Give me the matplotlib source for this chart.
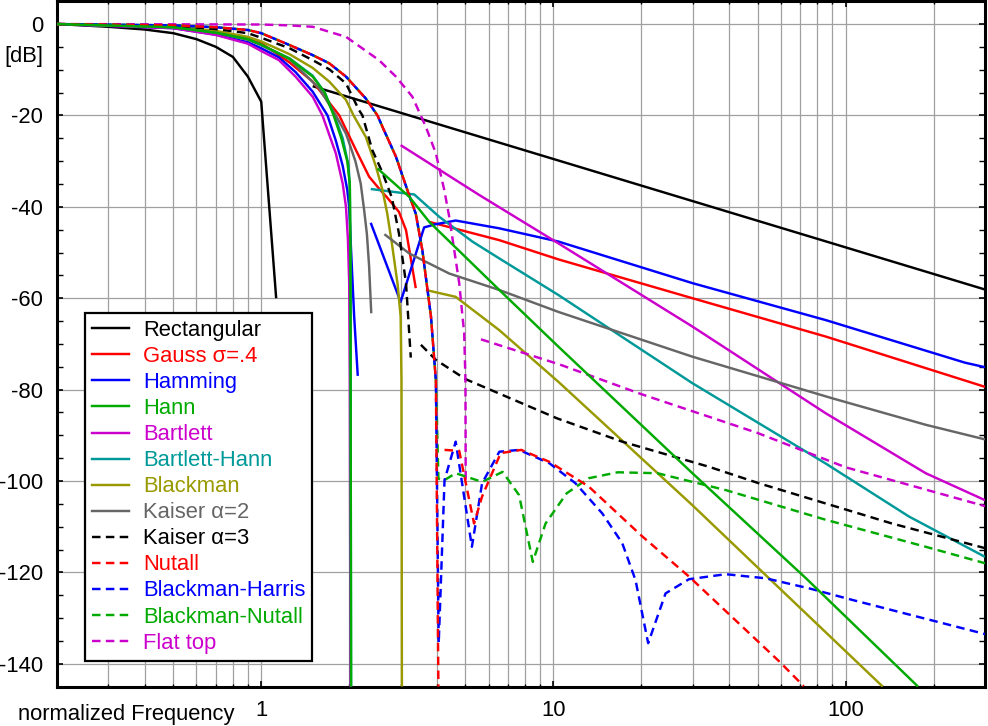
import matplotlib
matplotlib.use('Agg')
import matplotlib.pyplot as plt
from matplotlib.ticker import FixedLocator, FixedFormatter, NullFormatter
from matplotlib.lines import Line2D

plt.rcParams['font.family'] = ['Liberation Sans', 'DejaVu Sans']
plt.rcParams['axes.unicode_minus'] = False

# ---------------- data (normalized frequency, dB) ----------------
rect_main_f = [0.2, 0.3, 0.4, 0.5, 0.6, 0.7, 0.8, 0.9, 1.0, 1.125]
rect_main_db = [0, -0.6, -1.2, -2.0, -3.3, -5.0, -7.2, -11.5, -17, -60]
rect_side_f = [1.5, 300]
rect_side_db = [-13.6, -58.1]

gauss_main_f = [0.2, 0.5, 0.7, 0.9, 1.0, 1.25, 1.5, 1.71, 1.85, 2.11, 2.34, 2.53, 2.7, 2.96, 3.13, 3.38]
gauss_main_db = [0, -0.8, -1.9, -3.3, -4.2, -8.4, -12.6, -17.2, -20, -27.6, -33.4, -36.0, -38, -41.1, -45.1, -57.8]
gauss_side_f = [3.76, 6.53, 10.4, 29.9, 85.6, 300]
gauss_side_db = [-43.3, -47.3, -51.5, -60, -68.4, -79.4]

hamming_main_f = [0.2, 0.5, 0.7, 0.9, 1.0, 1.15, 1.31, 1.5, 1.686, 1.8, 1.9, 1.97, 2.0, 2.03, 2.08, 2.14]
hamming_main_db = [0, -0.9, -2.3, -4.0, -5.3, -7.3, -10.5, -14.8, -20, -25.5, -31, -36.3, -40, -49.5, -64, -77]
hamming_side_f = [2.37, 3.0, 3.61, 3.96, 4.63, 6.52, 10.4, 29.9, 85.6, 256, 300]
hamming_side_db = [-43.5, -60.8, -44.5, -43.8, -43.0, -44.7, -47.6, -56.7, -64.8, -74.1, -75.1]

hann_main_f = [0.2, 0.5, 0.7, 0.9, 1.0, 1.25, 1.5, 1.65, 1.77, 1.88, 1.97, 2.01, 2.02, 2.03]
hann_main_db = [0, -0.7, -1.9, -3.3, -4.5, -7.6, -11.5, -15, -20, -25, -30, -35, -50, -145]
hann_side_f = [2.5, 3.21, 3.76, 6.53, 10.4, 29.9, 73.2, 177]
hann_side_db = [-31.6, -37.8, -43.3, -58.2, -70.6, -98.3, -121.3, -145]

bartlett_main_f = [0.2, 0.5, 0.7, 0.9, 1.0, 1.15, 1.31, 1.5, 1.62, 1.8, 1.9, 1.95, 1.98, 2.0, 2.01, 2.02]
bartlett_main_db = [0, -0.9, -2.4, -4.3, -5.9, -7.9, -11.5, -15.9, -20, -28.3, -34.9, -40, -47, -56.7, -78, -145]
bartlett_side_f = [3.0, 5.57, 10.4, 29.9, 85.6, 188, 300]
bartlett_side_db = [-26.5, -37.4, -48, -66.2, -85.2, -98.3, -104.2]

bhann_main_f = [0.2, 0.5, 0.7, 0.9, 1.0, 1.25, 1.5, 1.65, 1.78, 1.9, 1.99, 2.01, 2.02, 2.03]
bhann_main_db = [0, -0.7, -1.9, -3.4, -4.6, -7.5, -11.3, -15, -20, -25, -31, -36, -50, -145]
bhann_side_f = [2.37, 3.34, 4.07, 5.28, 6.53, 10.4, 29.9, 85.6, 165, 300]
bhann_side_db = [-36.1, -37.3, -42.2, -47.6, -51.3, -59.3, -78.6, -96.2, -107.8, -116.6]

blackman_main_f = [0.2, 0.5, 0.7, 0.9, 1.0, 1.25, 1.5, 1.71, 1.95, 2.07, 2.28, 2.47, 2.6, 2.7, 2.8, 2.93, 3.0, 3.02, 3.03]
blackman_main_db = [0, -0.5, -1.5, -2.8, -3.8, -6.6, -9.6, -12.6, -16.6, -20, -24.7, -31.2, -36.3, -41.5, -48, -57, -64, -78, -145]
blackman_side_f = [3.66, 4.63, 6.53, 10.4, 29.9, 54.7, 134]
blackman_side_db = [-58.2, -59.7, -67, -78.3, -105.3, -121.3, -145]

kaiser2_main_f = [0.2, 0.5, 0.7, 0.9, 1.0, 1.25, 1.58, 1.8, 1.95, 2.0, 2.1, 2.19, 2.25, 2.3, 2.34, 2.38]
kaiser2_main_db = [0, -0.7, -1.9, -3.4, -4.6, -7.7, -14.1, -20, -24, -26, -30, -34.9, -40.7, -46, -53, -63.3]
kaiser2_side_f = [2.64, 3.21, 4.4, 6.53, 10.4, 29.9, 90, 188, 300]
kaiser2_side_db = [-46, -50.2, -54.6, -58.2, -63, -72.8, -81.9, -87.7, -90.9]

kaiser3_main_f = [0.2, 0.5, 0.7, 0.9, 1.0, 1.25, 1.5, 1.71, 1.95, 2.16, 2.22, 2.4, 2.6, 2.8, 2.96, 3.13, 3.25]
kaiser3_main_db = [0, -0.4, -1.1, -2.0, -3.0, -5.3, -7.9, -9.9, -13, -18.8, -20, -27.6, -32.5, -38, -45.8, -56.7, -73]
kaiser3_side_f = [3.52, 3.96, 5.0, 10.3, 17.2, 34.1, 50.5, 144, 300]
kaiser3_side_db = [-70.2, -73.5, -77.7, -86.3, -91.4, -96.9, -100.5, -109.3, -114.7]

# shared main lobe of the 4-term windows
four_main_f = [0.2, 0.5, 0.7, 0.9, 1.0, 1.25, 1.5, 1.71, 1.95, 2.28, 2.5, 2.6, 2.89, 3.21, 3.38, 3.56, 3.81, 3.96]
four_main_db = [0, -0.3, -0.7, -1.3, -2.0, -4.6, -6.8, -8.6, -11.5, -16.3, -20, -22.5, -29, -37.5, -41.5, -49.5, -64, -78]

nutall_main_f = four_main_f + [4.04]
nutall_main_db = four_main_db + [-145]
nutall_side_f = [4.24, 4.76, 5.35, 5.7, 6.6, 7.76, 9.68, 13.2, 20.2, 29.1, 59.3, 71.9]
nutall_side_db = [-93.2, -93.4, -109.3, -103.4, -93.9, -93.2, -95.8, -101.2, -112.2, -120.9, -139.5, -144.9]

bharris_f = four_main_f + [4.05, 4.24, 4.63, 5.26, 5.7, 6.53, 7.63, 9.68, 11.9, 14.7, 17.2, 19.1, 21.1,
                           24.2, 29.1, 38.9, 53.3, 75, 105, 300]
bharris_db = four_main_db + [-135.5, -99.8, -91.4, -114.4, -100.5, -93.6, -93.2, -96.1, -100.5, -107.1, -113.6,
                             -121.7, -135.5, -124.6, -121.5, -120.4, -121.3, -123.5, -126, -133.5]

bnutall_f = four_main_f + [4.04, 4.24, 4.63, 5.7, 6.7, 7.63, 8.5, 9.4, 11.1, 13.2, 16.6, 22.7, 38.9, 85.6, 188, 300]
bnutall_db = four_main_db + [-99.5, -99.8, -98.3, -100.2, -98, -103.1, -117.7, -109.3, -102.7, -99.4, -98.1,
                             -98.3, -102, -108.5, -114.4, -118]

flattop_main_f = [0.2, 1.0, 1.25, 1.5, 1.95, 2.53, 2.89, 3.29, 3.66, 3.96, 4.23, 4.4, 4.76, 4.95, 5.0, 5.01]
flattop_main_db = [0, -0.1, -0.3, -0.6, -2.8, -7.9, -11.5, -15.9, -22.5, -28.3, -36.3, -42.2, -56.7, -67.7, -78, -100]
flattop_side_f = [5.65, 10.5, 20, 50, 100, 300]
flattop_side_db = [-69, -74.5, -81, -89.5, -97, -105.5]

x_major = [1, 10, 100]
x_major_labels = ['1', '10', '100']
y_major = [0, -20, -40, -60, -80, -100, -120, -140]
y_major_labels = ['0', '-20', '-40', '-60', '-80', '-100', '-120', '-140']

# ---------------- figure ----------------
W, H = 988, 726
FS = 15.8
fig = plt.figure(figsize=(W / 100, H / 100), dpi=100)
ax = fig.add_axes([57 / W, 39.4 / H, 928 / W, 685.4 / H])
ax.set_xscale('log')
ax.set_xlim(0.2, 300)
ax.set_ylim(-145, 5)

LW = 1.75
DASH = (3.5, 2.2)

series = [
    ('Rectangular', 'black', '-', [(rect_main_f, rect_main_db), (rect_side_f, rect_side_db)], 3, 0),
    ('Gauss σ=.4', '#ff0000', '-', [(gauss_main_f, gauss_main_db), (gauss_side_f, gauss_side_db)], 3, 0),
    ('Hamming', '#0000ff', '-', [(hamming_main_f, hamming_main_db), (hamming_side_f, hamming_side_db)], 3, 0),
    ('Hann', '#00aa00', '-', [(hann_main_f, hann_main_db), (hann_side_f, hann_side_db)], 3.5, 0),
    ('Bartlett', '#cc00cc', '-', [(bartlett_main_f, bartlett_main_db), (bartlett_side_f, bartlett_side_db)], 3, 0),
    ('Bartlett-Hann', '#009999', '-', [(bhann_main_f, bhann_main_db), (bhann_side_f, bhann_side_db)], 3, 0),
    ('Blackman', '#999900', '-', [(blackman_main_f, blackman_main_db), (blackman_side_f, blackman_side_db)], 3, 0),
    ('Kaiser α=2', '#666666', '-', [(kaiser2_main_f, kaiser2_main_db), (kaiser2_side_f, kaiser2_side_db)], 3, 0),
    ('Kaiser α=3', 'black', '--', [(kaiser3_main_f, kaiser3_main_db), (kaiser3_side_f, kaiser3_side_db)], 3, 0),
    ('Nutall', '#ff0000', '--', [(nutall_main_f, nutall_main_db), (nutall_side_f, nutall_side_db)], 3.3, 0),
    ('Blackman-Harris', '#0000ff', '--', [(bharris_f, bharris_db)], 3.2, 3.8),
    ('Blackman-Nutall', '#00aa00', '--', [(bnutall_f, bnutall_db)], 3.1, 1.9),
    ('Flat top', '#cc00cc', '--', [(flattop_main_f, flattop_main_db), (flattop_side_f, flattop_side_db)], 3, 0),
]

handles = []
labels = []
for name, color, ls, segs, z, off in series:
    style = '-' if ls == '-' else (off, DASH)
    for f, d in segs:
        ax.plot(f, d, color=color, linestyle=style, lw=LW, zorder=z,
                solid_joinstyle='round', solid_capstyle='butt', dash_capstyle='butt')
    handles.append(Line2D([], [], color=color, linestyle='-' if ls == '-' else (0, DASH), lw=LW))
    labels.append(name)

# ---------------- axes styling ----------------
ax.xaxis.set_major_locator(FixedLocator(x_major))
ax.xaxis.set_major_formatter(FixedFormatter(x_major_labels))
x_minor = [m * 10.0 ** e for e in (-1, 0, 1, 2) for m in range(2, 10) if 0.2 <= m * 10.0 ** e <= 300]
ax.xaxis.set_minor_locator(FixedLocator(x_minor))
ax.xaxis.set_minor_formatter(NullFormatter())
ax.yaxis.set_major_locator(FixedLocator(y_major))
ax.yaxis.set_major_formatter(FixedFormatter(y_major_labels))
ax.yaxis.set_minor_locator(FixedLocator(list(range(-145, 5, 5))))

ax.grid(True, which='both', axis='x', color='#a0a0a0', lw=0.9)
ax.grid(True, which='major', axis='y', color='#a0a0a0', lw=0.9)
ax.set_axisbelow(True)

ax.tick_params(which='both', direction='in', top=True, right=True, labelsize=FS,
               pad=10, color='black')
ax.tick_params(which='major', length=4.5, width=1.2)
ax.tick_params(axis='x', which='minor', length=2.5, width=1.0)
ax.tick_params(axis='y', which='minor', length=4, width=1.0)
for sp in ax.spines.values():
    sp.set_linewidth(2.2)
    sp.set_color('black')

leg = ax.legend(handles, labels, loc='upper left', bbox_to_anchor=(28 / 928, (686.6 - 313) / 685.4),
                borderaxespad=0, frameon=True, fancybox=False, edgecolor='black', framealpha=1,
                fontsize=FS, handlelength=1.7, handletextpad=0.62, labelspacing=0.23,
                borderpad=0.32, labelcolor='linecolor')
leg.get_frame().set_linewidth(1.6)

fig.text(18 / W, (H - 720) / H, 'normalized Frequency', ha='left', va='baseline', fontsize=FS)
fig.text(43 / W, (H - 61.7) / H, '[dB]', ha='right', va='baseline', fontsize=FS)

fig.savefig('out.png', dpi=100)
